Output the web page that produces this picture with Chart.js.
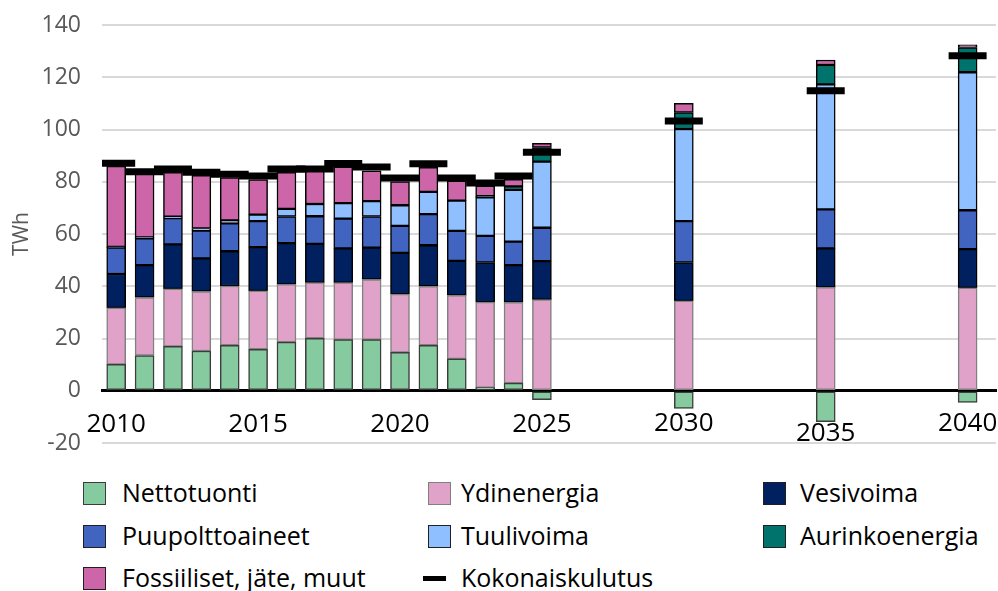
<!DOCTYPE html>
<html>
<head>
<meta charset="utf-8">
<script src="https://cdn.jsdelivr.net/npm/chart.js@4/dist/chart.umd.min.js"></script>
<style>
    body { margin: 0; background: #fff; font-family: "Open Sans", sans-serif; }
    #wrap { position: relative; width: 998px; height: 591px; overflow: hidden; }
    #chartBox { position: absolute; left: 0; top: 0; width: 998px; height: 470px; }
    .leg { position: absolute; font-size: 25px; color: #000; line-height: 30px; white-space: nowrap; }
    .legBox { position: absolute; width: 21px; height: 21px; border: 1px solid #404040; }
    .legLine { position: absolute; width: 23px; height: 5px; background: #000; }
</style>
</head>
<body>
<div id="wrap">
    <div id="chartBox"><canvas id="energyChart"></canvas></div>
    <div id="legend"></div>
</div>
<script>
// years on a linear axis (gap after 2025)
const years = [2010, 2011, 2012, 2013, 2014, 2015, 2016, 2017, 2018, 2019, 2020, 2021, 2022, 2023, 2024, 2025, 2030, 2035, 2040];
const xTickLabels = [2010, 2015, 2020, 2025, 2030, 2035, 2040];

// TWh
const nettotuonti = [10.1, 13.5, 17.0, 15.2, 17.4, 15.9, 18.6, 20.1, 19.6, 19.6, 14.7, 17.4, 12.2, 1.2, 2.9, -3.4, -6.8, -11.8, -4.5];
const ydinenergia = [21.6, 22.2, 22.0, 22.8, 22.7, 22.3, 22.1, 21.3, 21.8, 23.0, 22.3, 22.6, 24.3, 32.7, 30.9, 34.9, 34.4, 39.6, 39.4];
const vesivoima = [13.0, 12.4, 17.0, 12.7, 13.3, 16.8, 15.8, 14.8, 13.1, 12.2, 15.8, 15.7, 13.2, 15.2, 14.3, 14.7, 14.7, 14.9, 14.8];
const puupolttoaineet = [10.1, 10.2, 10.1, 10.6, 10.7, 9.9, 10.2, 10.6, 11.4, 11.9, 10.3, 11.9, 11.5, 10.2, 9.0, 12.8, 15.8, 14.9, 14.9];
const tuulivoima = [0.3, 0.4, 0.5, 0.8, 1.1, 2.5, 2.9, 4.7, 5.9, 5.9, 7.9, 8.5, 11.6, 14.7, 19.8, 25.3, 35.3, 47.9, 52.8];
const aurinkoenergia = [null, null, null, null, null, null, null, null, null, null, null, null, null, 0.5, 1.3, 5.4, 6.3, 7.4, 9.5];
const fossiiliset = [30.9, 25.0, 17.0, 20.4, 16.4, 13.4, 14.0, 12.8, 13.9, 11.6, 9.1, 9.4, 7.6, 3.9, 2.7, 1.6, 3.5, 1.9, 1.0];
const kokonaiskulutus = [87.1, 83.8, 84.9, 83.6, 82.9, 82.2, 84.9, 84.9, 87.0, 85.6, 81.4, 86.9, 81.4, 79.5, 82.2, 91.3, 103.3, 114.8, 128.2];

const yTicks = [-20, 0, 20, 40, 60, 80, 100, 120, 140];

function points(values) {
    return years.map((y, i) => ({ x: y, y: values[i] }));
}

function barSet(label, values, color, border) {
    return {
        type: "bar",
        label,
        data: points(values),
        backgroundColor: color,
        borderColor: border,
        borderWidth: 1.5,
        borderSkipped: false,
        barThickness: 19,
        stack: "energy",
        order: 1
    };
}

// year labels under the zero line (2035 sits a bit lower in the original)
const yearLabels = {
    id: "yearLabels",
    afterDraw(chart) {
        const ctx = chart.ctx;
        const xScale = chart.scales.x;
        const zero = chart.scales.y.getPixelForValue(0);
        ctx.save();
        ctx.font = '26px "Open Sans"';
        ctx.fillStyle = "#000";
        ctx.textAlign = "center";
        ctx.textBaseline = "alphabetic";
        xTickLabels.forEach(v => {
            const drop = v === 2035 ? 50 : (v >= 2030 ? 40 : 41);
            ctx.fillText(String(v), xScale.getPixelForValue(v), zero + drop);
        });
        ctx.restore();
    }
};

const chart = new Chart(document.getElementById("energyChart"), {
    data: {
        datasets: [
            barSet("Nettotuonti", nettotuonti, "#86CBA0", "#3c3c3c"),
            barSet("Ydinenergia", ydinenergia, "#E0A2C8", "#808080"),
            barSet("Vesivoima", vesivoima, "#002060", "#000"),
            barSet("Puupolttoaineet", puupolttoaineet, "#4064C0", "#000"),
            barSet("Tuulivoima", tuulivoima, "#8FBFFF", "#000"),
            barSet("Aurinkoenergia", aurinkoenergia, "#00736C", "#000"),
            barSet("Fossiiliset, jäte, muut", fossiiliset, "#CC66A8", "#000"),
            {
                type: "line",
                label: "Kokonaiskulutus",
                data: points(kokonaiskulutus),
                showLine: false,
                pointStyle: "line",
                pointRadius: 19,
                pointHoverRadius: 19,
                pointBorderWidth: 7,
                pointHoverBorderWidth: 7,
                borderColor: "#000",
                backgroundColor: "#000",
                stack: "total",
                order: 0
            }
        ]
    },
    options: {
        responsive: true,
        maintainAspectRatio: false,
        animation: false,
        events: [],
        layout: {
            autoPadding: false,
            padding: { top: 25, right: 2, bottom: 27, left: 0 }
        },
        plugins: {
            legend: { display: false },
            tooltip: { enabled: false }
        },
        scales: {
            x: {
                type: "linear",
                min: 2009.5,
                max: 2041,
                offset: false,
                stacked: true,
                position: { y: 0 },
                z: 1,
                grid: { display: false },
                border: { display: true, color: "#000", width: 3 },
                ticks: { display: false },
                afterFit: scale => {
                    scale.paddingLeft = 0;
                    scale.paddingRight = 0;
                }
            },
            y: {
                stacked: true,
                min: -20,
                max: 140,
                afterBuildTicks: scale => {
                    scale.ticks = yTicks.map(v => ({ value: v }));
                },
                afterFit: scale => {
                    scale.width = 102;
                    scale.paddingTop = 0;
                    scale.paddingBottom = 0;
                },
                grid: {
                    color: c => c.tick && c.tick.value === 0 ? "rgba(0,0,0,0)" : "#D9D9D9",
                    lineWidth: 2,
                    drawTicks: false
                },
                border: { display: false },
                ticks: {
                    padding: 21,
                    color: "#595959",
                    font: { family: "Open Sans", size: 23 }
                },
                title: {
                    display: true,
                    text: "TWh",
                    color: "#595959",
                    font: { family: "Open Sans", size: 21 },
                    padding: { top: 9, bottom: 0 }
                }
            }
        }
    },
    plugins: [yearLabels]
});

// legend in three columns, like the original
const legCols = [83, 428, 763];
const legTextCols = [122, 461, 800];
const legRows = [493, 536, 578];
const legend = document.getElementById("legend");
chart.data.datasets.forEach((ds, i) => {
    const col = i % 3;
    const row = Math.floor(i / 3);
    const mark = document.createElement("div");
    if (ds.type === "line") {
        mark.className = "legLine";
        mark.style.left = (legCols[col] - 5) + "px";
        mark.style.top = (legRows[row] - 2) + "px";
    } else {
        mark.className = "legBox";
        mark.style.left = legCols[col] + "px";
        mark.style.top = (legRows[row] - 11) + "px";
        mark.style.background = ds.backgroundColor;
        mark.style.borderColor = ds.borderColor === "#000" ? "#202020" : ds.borderColor;
    }
    legend.appendChild(mark);
    const text = document.createElement("div");
    text.className = "leg";
    text.textContent = ds.label;
    text.style.left = legTextCols[col] + "px";
    text.style.top = (legRows[row] - 16) + "px";
    legend.appendChild(text);
});
</script>
</body>
</html>
